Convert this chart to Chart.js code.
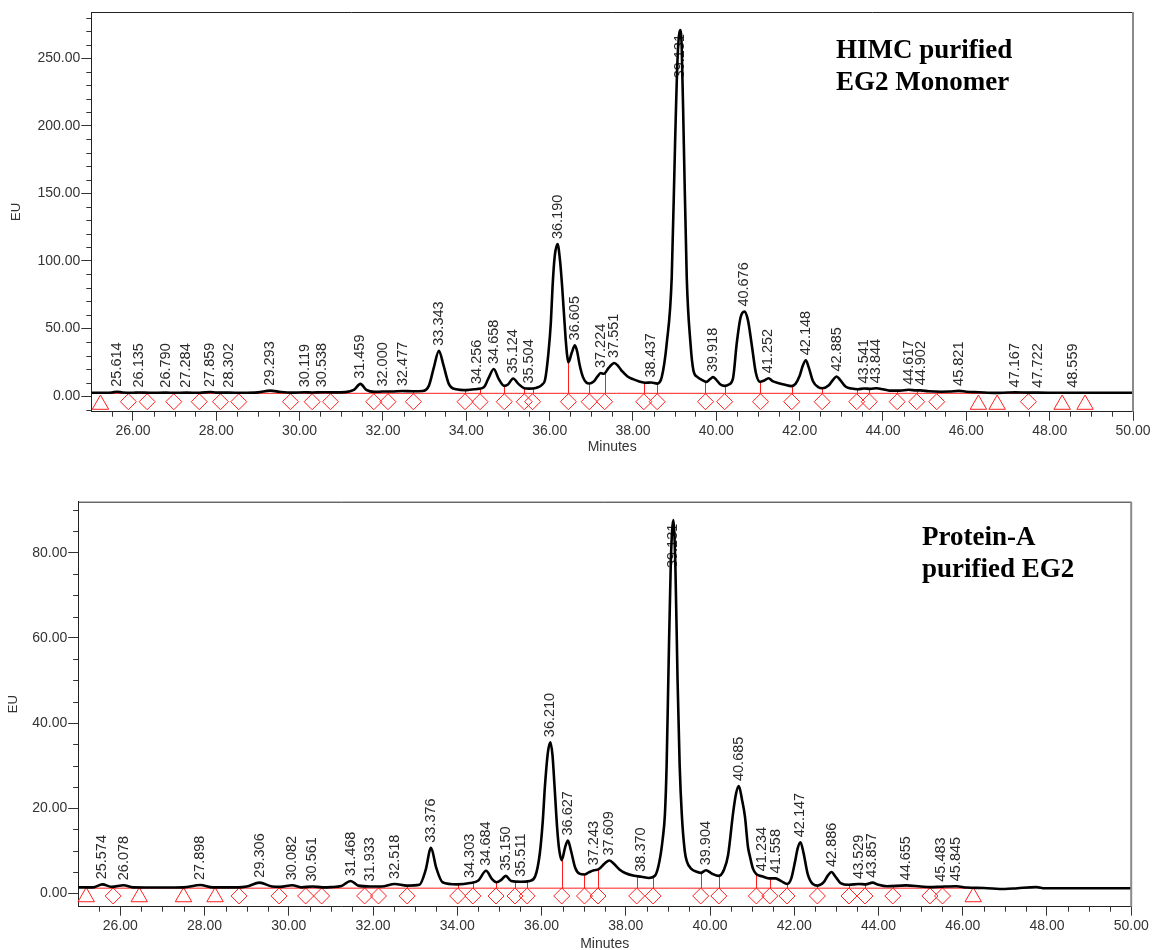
<!DOCTYPE html>
<html>
<head>
<meta charset="utf-8">
<script src="https://cdn.jsdelivr.net/npm/chart.js@4.4.0/dist/chart.umd.min.js"></script>
<style>
  html, body { margin: 0; padding: 0; background: #fff; overflow: hidden; }
  canvas { position: absolute; left: 0; }
  #himc { top: 0; }
  #prot { top: 478px; }
</style>
</head>
<body>
<canvas id="himc" width="1153" height="470"></canvas>
<canvas id="prot" width="1153" height="490"></canvas>
<script>
// shared axis ticks
const minutesTicks = [26, 28, 30, 32, 34, 36, 38, 40, 42, 44, 46, 48, 50];
const himcTicksEU = [0, 50, 100, 150, 200, 250];
const protTicksEU = [0, 20, 40, 60, 80];

// HIMC purified EG2 monomer trace
const himcTime = [25.0, 25.3, 25.5, 25.614, 25.75, 26.0, 26.135, 26.4, 26.79, 27.0, 27.284, 27.6, 27.859, 28.0, 28.302, 28.6,
  29.0, 29.293, 29.55, 29.8, 30.119, 30.3, 30.538, 30.8, 31.1, 31.3, 31.459, 31.6, 31.8, 32.0, 32.2, 32.477, 32.7, 32.95,
  33.1, 33.22, 33.343, 33.45, 33.58, 33.75, 34.0, 34.256, 34.42, 34.53, 34.658, 34.78, 34.91, 35.0, 35.124, 35.25, 35.39,
  35.504, 35.6, 35.72, 35.82, 35.89, 35.97, 36.03, 36.07, 36.12, 36.19, 36.25, 36.3, 36.38, 36.42, 36.45, 36.53, 36.605,
  36.66, 36.72, 36.8, 36.88, 36.95, 37.05, 37.15, 37.224, 37.3, 37.42, 37.551, 37.65, 37.75, 37.87, 38.0, 38.15, 38.3,
  38.437, 38.58, 38.69, 38.81, 38.93, 39.01, 39.07, 39.131, 39.17, 39.22, 39.29, 39.38, 39.45, 39.55, 39.65, 39.76, 39.85,
  39.918, 40.0, 40.1, 40.2, 40.3, 40.4, 40.49, 40.58, 40.676, 40.76, 40.85, 40.95, 41.05, 41.15, 41.252, 41.35, 41.5,
  41.65, 41.8, 41.9, 42.0, 42.07, 42.148, 42.22, 42.32, 42.45, 42.55, 42.7, 42.8, 42.885, 42.97, 43.1, 43.25, 43.4,
  43.541, 43.7, 43.844, 44.0, 44.15, 44.4, 44.617, 44.8, 44.902, 45.1, 45.4, 45.6, 45.821, 46.0, 46.3, 46.7, 47.0,
  47.167, 47.5, 47.722, 48.2, 48.559, 49.0, 50.0];
const himcEU = [2.4, 2.4, 2.6, 3.2, 2.6, 2.4, 2.6, 2.4, 2.5, 2.4, 2.5, 2.4, 3.0, 2.5, 2.5, 2.4,
  2.7, 4.0, 3.0, 2.5, 2.8, 2.6, 2.8, 2.7, 2.9, 4.5, 9.0, 4.6, 3.1, 3.3, 3.3, 3.7, 3.5, 3.7,
  7.5, 21, 33.5, 23, 9, 5, 4.4, 5.2, 6.5, 13, 20, 12.5, 7.5, 8.5, 13, 9, 5.8,
  5.5, 5.6, 6.5, 8.5, 12, 31.6, 55, 81, 103, 112.5, 100, 81, 44, 30, 25, 32, 37.5,
  33, 23, 14, 10, 9.3, 10.5, 14.5, 17, 16.5, 21, 24.5, 22, 18, 14.5, 12.5, 10.8, 9.8,
  10, 9.2, 14, 39, 88, 187, 250, 271, 258, 187, 88, 39, 19, 14, 12, 10.5, 12.5,
  14, 12, 8.5, 7.5, 8.5, 13, 39, 58, 62.5, 56, 38, 17, 10.5, 11.5, 13.2, 11, 9.5,
  8.3, 7.3, 9, 15, 22, 26.5, 21, 11, 6.5, 5.8, 8, 12, 14.5, 12, 7, 5.5, 5,
  5.6, 5.3, 5.8, 5, 4, 4, 4.6, 4.2, 4.2, 3.5, 3.2, 3.3, 3.8, 3.2, 2.8, 2.3, 2.6,
  2.7, 2.5, 2.5, 2.4, 2.4, 2.4, 2.4];
const himcPeaks = [25.614, 26.135, 26.790, 27.284, 27.859, 28.302, 29.293, 30.119, 30.538, 31.459, 32.000, 32.477,
  33.343, 34.256, 34.658, 35.124, 35.504, 36.190, 36.605, 37.224, 37.551, 38.437, 39.131, 39.918, 40.676, 41.252,
  42.148, 42.885, 43.541, 43.844, 44.617, 44.902, 45.821, 47.167, 47.722, 48.559];
const himcDrops = [25.89, 26.34, 26.98, 27.59, 28.10, 28.54, 29.78, 30.30, 30.74, 31.78, 32.12, 32.73, 33.97, 34.33,
  34.91, 35.39, 35.59, 36.45, 36.95, 37.32, 38.26, 38.58, 39.74, 40.20, 41.06, 41.81, 42.54, 43.37, 43.67, 44.34,
  44.81, 45.29, 47.49];
const himcEnds = [25.22, 46.29, 46.74, 48.30, 48.85];
const himcBaseSpan = [25.22, 50];
const himcBaseEU = 2.0;

// Protein-A purified EG2 trace
const protTime = [25.0, 25.35, 25.574, 25.8, 26.078, 26.3, 27.0, 27.5, 27.898, 28.2, 28.8, 29.0, 29.306, 29.6, 29.8,
  30.082, 30.3, 30.561, 30.8, 31.0, 31.25, 31.468, 31.65, 31.933, 32.2, 32.518, 32.8, 33.1, 33.25, 33.376, 33.5, 33.65,
  34.0, 34.303, 34.5, 34.684, 34.82, 34.93, 35.05, 35.15, 35.28, 35.511, 35.72, 35.85, 35.96, 36.03, 36.08, 36.15,
  36.21, 36.26, 36.31, 36.37, 36.42, 36.48, 36.56, 36.627, 36.7, 36.8, 36.9, 37.02, 37.12, 37.243, 37.35, 37.5,
  37.609, 37.7, 37.85, 38.0, 38.2, 38.37, 38.55, 38.7, 38.8, 38.88, 38.93, 38.97, 39.01, 39.07, 39.131, 39.18, 39.23,
  39.28, 39.33, 39.4, 39.45, 39.55, 39.7, 39.78, 39.904, 40.05, 40.21, 40.33, 40.43, 40.55, 40.62, 40.685, 40.76,
  40.83, 40.9, 40.95, 41.02, 41.1, 41.234, 41.4, 41.558, 41.7, 41.83, 41.93, 42.02, 42.08, 42.147, 42.22, 42.32,
  42.45, 42.56, 42.7, 42.8, 42.886, 42.97, 43.1, 43.3, 43.529, 43.7, 43.857, 44.0, 44.2, 44.655, 45.0, 45.22, 45.483,
  45.845, 46.1, 46.5, 47.0, 47.3, 47.75, 47.95, 50.0];
const protEU = [1.4, 1.4, 2.1, 1.5, 1.9, 1.4, 1.35, 1.4, 1.95, 1.4, 1.4, 1.6, 2.5, 1.6, 1.5,
  1.9, 1.4, 1.6, 1.4, 1.45, 1.7, 2.9, 1.8, 1.6, 1.6, 2.2, 1.8, 2.0, 5.5, 10.7, 6, 2.6,
  2.1, 2.4, 3.0, 5.3, 3.4, 2.6, 3.2, 4.1, 2.9, 2.7, 2.9, 4.0, 9.4, 17, 25, 33,
  35.5, 32.5, 25, 15.5, 10.2, 7.8, 10.8, 12.4, 10, 6, 4.6, 4.4, 4.9, 5.4, 5.6, 7.0,
  7.7, 7.1, 5.6, 4.7, 4.1, 3.9, 3.6, 4.2, 7.5, 13, 18.6, 30, 50, 78, 87.7, 76, 50,
  30, 18.6, 10, 7.5, 5.8, 5.0, 4.8, 5.4, 4.6, 4.1, 5.5, 9, 19, 23.5, 25.2, 22,
  18, 11, 8.6, 5.8, 4.5, 4.0, 3.5, 3.5, 2.8, 2.2, 3.5, 7.5, 10.5, 12, 9.5, 4.5,
  2.1, 1.8, 2.6, 4.2, 5.0, 4.0, 2.4, 2.0, 2.2, 2.1, 2.5, 2.0, 1.65, 1.85, 1.6, 1.45, 1.55,
  1.65, 1.35, 1.25, 1.0, 1.2, 1.45, 1.2, 1.2];
const protPeaks = [25.574, 26.078, 27.898, 29.306, 30.082, 30.561, 31.468, 31.933, 32.518, 33.376, 34.303, 34.684,
  35.150, 35.511, 36.210, 36.627, 37.243, 37.609, 38.370, 39.131, 39.904, 40.685, 41.234, 41.558, 42.147, 42.886,
  43.529, 43.857, 44.655, 45.483, 45.845];
const protDrops = [25.83, 28.82, 29.77, 30.40, 30.78, 31.80, 32.13, 32.81, 34.01, 34.37, 34.92, 35.37, 35.66, 36.48,
  37.02, 37.34, 38.26, 38.65, 39.78, 40.21, 41.10, 41.42, 41.83, 42.55, 43.30, 43.68, 44.34, 45.22, 45.52];
const protEnds = [25.19, 26.45, 27.50, 28.25, 46.25];
const protBaseSpan = [25.19, 46.25];
const protBaseEU = 1.2;

const SANS = '"Liberation Sans", Arial, sans-serif';
const RED = 'rgb(255,30,30)';

// linear lookup on a trace, used to hang drop lines and peak labels on the curve
function traceAt(time, eu, t) {
  if (t <= time[0]) return eu[0];
  for (let i = 1; i < time.length; i++) {
    if (t <= time[i]) {
      const f = (t - time[i - 1]) / (time[i] - time[i - 1]);
      return eu[i - 1] + f * (eu[i] - eu[i - 1]);
    }
  }
  return eu[eu.length - 1];
}

function chromPlugin(s) {
  return {
    id: 'chrom',
    beforeDatasetsDraw(chart) {
      const { ctx, chartArea, scales: { x, y } } = chart;
      ctx.save();
      // drop lines from the integration baseline up to the trace
      ctx.strokeStyle = RED;
      ctx.lineWidth = 1;
      ctx.beginPath();
      s.drops.forEach(t => {
        const px = Math.round(x.getPixelForValue(t)) + 0.5;
        ctx.moveTo(px, y.getPixelForValue(s.baseEU));
        ctx.lineTo(px, y.getPixelForValue(traceAt(s.time, s.eu, t)));
      });
      ctx.stroke();
      // retention time labels
      ctx.font = '14.5px ' + SANS;
      ctx.fillStyle = '#2a2a2a';
      ctx.textAlign = 'left';
      ctx.textBaseline = 'middle';
      s.peaks.forEach(t => {
        const txt = t.toFixed(3);
        const w = ctx.measureText(txt).width;
        let py = y.getPixelForValue(traceAt(s.time, s.eu, t)) - 5;
        if (py - w < chartArea.top + 22) py = chartArea.top + 22 + w;
        ctx.save();
        ctx.translate(x.getPixelForValue(t), py);
        ctx.rotate(-Math.PI / 2);
        ctx.fillText(txt, 0, 0);
        ctx.restore();
      });
      ctx.restore();
    },
    afterDraw(chart) {
      const { ctx, chartArea: { left, right, top, bottom }, scales: { x, y } } = chart;
      ctx.save();
      // minor ticks
      ctx.strokeStyle = '#333';
      ctx.lineWidth = 1;
      ctx.beginPath();
      for (let k = 51; k < 100; k++) {
        const v = k / 2;
        if (minutesTicks.includes(v)) continue;
        const px = Math.round(x.getPixelForValue(v)) + 0.5;
        ctx.moveTo(px, bottom);
        ctx.lineTo(px, bottom + 5);
      }
      for (let v = Math.ceil(y.min / s.minorStep) * s.minorStep; v <= y.max; v += s.minorStep) {
        if (s.yTicks.includes(v)) continue;
        const py = Math.round(y.getPixelForValue(v)) + 0.5;
        ctx.moveTo(left - 5, py);
        ctx.lineTo(left, py);
      }
      ctx.stroke();
      // frame
      ctx.strokeStyle = '#222';
      ctx.beginPath();
      ctx.moveTo(left, top + 0.5);
      ctx.lineTo(right, top + 0.5);
      ctx.stroke();
      ctx.strokeStyle = '#8a8a8a';
      ctx.lineWidth = 2;
      ctx.beginPath();
      ctx.moveTo(right, top);
      ctx.lineTo(right, bottom);
      ctx.stroke();
      // sample caption
      ctx.font = 'bold 27px "Liberation Serif", "Times New Roman", serif';
      ctx.fillStyle = '#000';
      ctx.textAlign = 'left';
      ctx.textBaseline = 'alphabetic';
      s.caption.forEach((line, i) => ctx.fillText(line, s.captionX, s.captionY + i * 31.5));
      ctx.restore();
    }
  };
}

function buildChart(id, s) {
  const pts = s.time.map((t, i) => ({ x: t, y: s.eu[i] }));
  return new Chart(document.getElementById(id), {
    type: 'line',
    data: {
      datasets: [
        { data: pts, borderColor: '#000', borderWidth: 2.6, pointRadius: 0,
          cubicInterpolationMode: 'monotone', order: 0 },
        { data: s.baseSpan.map(t => ({ x: t, y: s.baseEU })), borderColor: RED, borderWidth: 1,
          pointRadius: 0, order: 1 },
        { type: 'scatter', data: s.drops.map(t => ({ x: t, y: s.diamondY })), pointStyle: 'rectRot',
          pointRadius: 8, borderColor: RED, backgroundColor: 'rgba(0,0,0,0)', pointBorderWidth: 1,
          borderWidth: 1, clip: false, order: 2 },
        { type: 'scatter', data: s.ends.map(t => ({ x: t, y: s.triangleY })), pointStyle: 'triangle',
          pointRadius: 9.5, borderColor: RED, backgroundColor: 'rgba(0,0,0,0)', pointBorderWidth: 1,
          borderWidth: 1, clip: false, order: 3 }
      ]
    },
    options: {
      responsive: false,
      animation: false,
      events: [],
      layout: { padding: s.padding },
      plugins: { legend: { display: false }, tooltip: { enabled: false } },
      scales: {
        x: {
          type: 'linear', min: 25, max: 50,
          afterBuildTicks: a => { a.ticks = minutesTicks.map(v => ({ value: v })); },
          afterFit: a => { a.height = s.xAxisH; },
          ticks: { callback: v => v.toFixed(2), font: { family: SANS, size: 14 }, color: '#333',
                   padding: 2, maxRotation: 0, autoSkip: false },
          grid: { drawOnChartArea: false, tickLength: 9, color: '#333', tickColor: '#333' },
          border: { color: '#222', width: 1 },
          title: { display: true, text: 'Minutes', font: { family: SANS, size: 14 }, color: '#333',
                   padding: { top: 0, bottom: s.xTitlePad } }
        },
        y: {
          type: 'linear', min: s.yMin, max: s.yMax,
          afterBuildTicks: a => { a.ticks = s.yTicks.map(v => ({ value: v })); },
          afterFit: a => { a.width = s.yAxisW; },
          ticks: { callback: v => v.toFixed(2), font: { family: SANS, size: 14 }, color: '#333', padding: 1 },
          grid: { drawOnChartArea: false, tickLength: 10, color: '#333', tickColor: '#333' },
          border: { color: '#222', width: 1 },
          title: { display: true, text: 'EU', font: { family: SANS, size: 13 }, color: '#333',
                   padding: { top: s.yTitlePad, bottom: 0 } }
        }
      }
    },
    plugins: [chromPlugin(s)]
  });
}

buildChart('himc', {
  time: himcTime, eu: himcEU, peaks: himcPeaks, drops: himcDrops, ends: himcEnds,
  baseSpan: himcBaseSpan, baseEU: himcBaseEU, yTicks: himcTicksEU,
  yMin: -11.6, yMax: 284.3, minorStep: 10, diamondY: -4.2, triangleY: -6.3,
  padding: { top: 12, right: 20, left: 0, bottom: 0 }, yAxisW: 91.3, xAxisH: 58.3,
  xTitlePad: 14.6, yTitlePad: 8.9,
  caption: ['HIMC purified', 'EG2 Monomer'], captionX: 836, captionY: 58
});

buildChart('prot', {
  time: protTime, eu: protEU, peaks: protPeaks, drops: protDrops, ends: protEnds,
  baseSpan: protBaseSpan, baseEU: protBaseEU, yTicks: protTicksEU,
  yMin: -3.15, yMax: 92, minorStep: 5, diamondY: -0.63, triangleY: -0.87,
  padding: { top: 23.7, right: 21.8, left: 0, bottom: 0 }, yAxisW: 78.2, xAxisH: 61.3,
  xTitlePad: 15.6, yTitlePad: 5.5,
  caption: ['Protein-A', 'purified EG2'], captionX: 922, captionY: 67
});
</script>
</body>
</html>
